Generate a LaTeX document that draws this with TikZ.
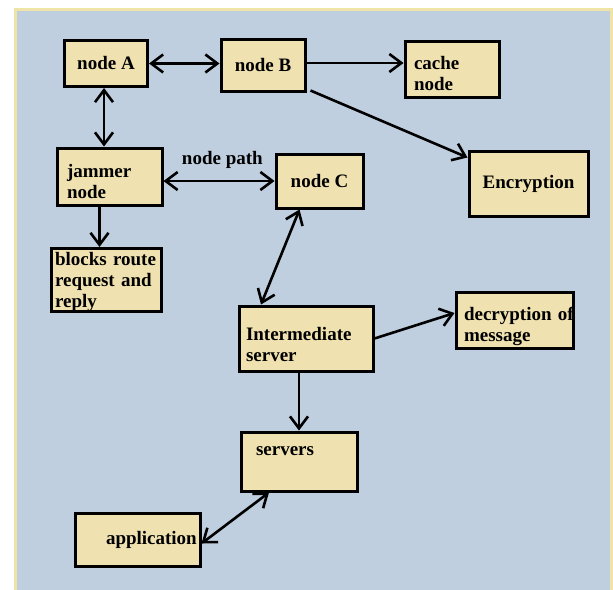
\documentclass[tikz,border=0pt]{standalone}
\usepackage{fontspec}
\setmainfont{Liberation Serif}
\usepackage{tikz}
\usetikzlibrary{positioning}
\usetikzlibrary{arrows.meta}
\definecolor{panelfill}{HTML}{C0CFDF}
\definecolor{panelline}{HTML}{EFE4A8}
\definecolor{boxfill}{HTML}{EFE2B0}
\newcommand{\txtdrop}[1]{\rule{0pt}{#1}}

\begin{document}
\begin{tikzpicture}[x=1pt, y=-1pt,
  box/.style={draw, fill=boxfill, line width=3pt, inner xsep=0pt, inner ysep=0pt,
    font=\fontsize{19}{21}\selectfont\bfseries},
  link/.style={line width=2.6pt, >={Straight Barb[length=12pt,width=18pt]}},
  every node/.style={font=\fontsize{19}{21}\selectfont\bfseries}]
  \useasboundingbox (0,0) rectangle (613,589);
  \fill[white] (0,0) rectangle (613,589);
  \draw[panelline, fill=panelfill, line width=2.6pt] (15.3,9.5) rectangle (611.3,600);

  % boxes
  \node[box, minimum width=83pt, minimum height=46pt] (nA) at (106,63.5) {node A};
  \node[box, minimum width=84pt, minimum height=52pt] (nB) at (263,65) {node B};
  \node[box, text width=76pt, inner xsep=9pt, align=left, minimum height=56pt] (cache) at (452,69) {\txtdrop{23pt}cache\\node};
  \node[box, text width=85pt, inner xsep=10pt, align=left, minimum height=57pt] (jam) at (109.5,176.5) {\txtdrop{23pt}jammer\\node};
  \node[box, minimum width=87pt, minimum height=54pt] (nC) at (319.5,181) {node C};
  \node[box, minimum width=119pt, minimum height=65pt] (enc) at (528.5,183.5) {Encryption};
  \node[box, text width=102pt, inner xsep=4pt, align=left, minimum height=60pt] (blocks) at (106,280) {\txtdrop{17pt}\mbox{blocks route}\\\mbox{request and}\\reply};
  \node[box, text width=120pt, inner xsep=7pt, align=left, minimum height=65pt] (inter) at (306,338.5) {\txtdrop{25pt}Intermediate\\server};
  \node[box, text width=101pt, inner xsep=8pt, align=left, minimum height=56pt] (dec) at (514.5,320) {\txtdrop{26pt}\mbox{decryption of}\\message};
  \node[box, text width=86pt, inner xsep=15pt, align=left, minimum height=59pt] (srv) at (299,461.5) {servers\\\mbox{}};
  \node[box, text width=63pt, inner xsep=31pt, align=left, minimum height=53pt] (app) at (137.5,539.5) {\mbox{application}};

  % links
  \draw[link, <->] (nA.east) -- (nA.east -| nB.west);
  \draw[link, <->] ([xshift=-2pt]nA.south) -- ([xshift=-2pt]nA.south |- jam.north);
  \draw[link, ->] ([yshift=2pt]nB.east) -- ([yshift=2pt]nB.east -| cache.west);
  \draw[link, ->] ([xshift=4pt, yshift=2pt]nB.south east) -- ([yshift=-8pt]enc.north west);
  \draw[link, <->] (jam.east |- nC.west) -- (nC.west) node[pos=0.53, above=8pt] (pathlbl) {node path};
  \draw[link, ->] ([xshift=-10pt]jam.south) -- ([xshift=-10pt]jam.south |- blocks.north);
  \draw[link, <->] ([xshift=-20pt]nC.south) -- ([xshift=-45pt]inter.north);
  \draw[link, ->] (inter.east) -- ([yshift=7pt]dec.west);
  \draw[link, ->] (srv.north |- inter.south) -- (srv.north);
  \draw[link, <->] ([xshift=-30pt]srv.south) -- ([yshift=-4pt]app.east);
\end{tikzpicture}
\end{document}
